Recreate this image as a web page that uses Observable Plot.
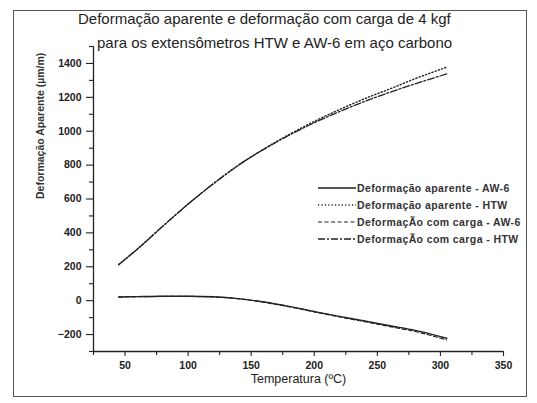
<!DOCTYPE html>
<html><head><meta charset="utf-8">
<script src="https://cdn.jsdelivr.net/npm/d3@7"></script>
<script src="https://cdn.jsdelivr.net/npm/@observablehq/plot@0.6"></script>
<style>
body{margin:0;background:#fff;}
#wrap{position:relative;width:537px;height:403px;font-family:"Liberation Sans",Arial,sans-serif;color:#222;overflow:hidden;}
#border{position:absolute;left:13px;top:10px;width:514px;height:387px;border:1px solid #555;box-sizing:border-box;}
.title{position:absolute;font-size:15px;white-space:nowrap;color:#222;font-family:"Liberation Sans",Arial,sans-serif;}
#legend{position:absolute;left:318px;top:179px;font-size:10.5px;font-weight:bold;color:#333;letter-spacing:0.4px;font-family:"Liberation Sans",Arial,sans-serif;}
#legend .row{height:17px;display:flex;align-items:center;white-space:nowrap;}
#legend svg{width:38px;height:10px;margin-right:1px;}
#plot{position:absolute;left:0;top:0;}
</style></head><body><div id="wrap"><div id="border"></div><div id="plot"></div></div>
<script>
const titulo1 = "Deformação aparente e deformação com carga de 4 kgf";
const titulo2 = "para os extensômetros HTW e AW-6 em aço carbono";
const rotuloX = "Temperatura (ºC)";
const rotuloY = "Deformação Aparente (µm/m)";

const temperatura = [45, 60, 80, 100, 120, 140, 160, 180, 200, 220, 240, 260, 280, 305];
const aparenteAW6 = [22, 24, 26, 26, 23, 12, -8, -34, -64, -93, -120, -148, -175, -222];
const aparenteHTW = [214, 307, 440, 570, 690, 800, 895, 980, 1058, 1128, 1192, 1250, 1310, 1378];
const cargaAW6   = [21, 23, 25, 25, 22, 11, -9, -36, -66, -96, -124, -153, -182, -232];
const cargaHTW   = [212, 305, 440, 570, 690, 800, 893, 976, 1050, 1116, 1176, 1230, 1280, 1338];

const ticksX = [50, 100, 150, 200, 250, 300, 350];
const ticksXmenor = [25, 75, 125, 175, 225, 275, 325];
const ticksY = [-200, 0, 200, 400, 600, 800, 1000, 1200, 1400];
const ticksYmenor = [-300, -100, 100, 300, 500, 700, 900, 1100, 1300, 1500];

const series = [
  {nome: "Deformação aparente - AW-6", valores: aparenteAW6, dash: null, w: 1.4},
  {nome: "Deformação aparente - HTW", valores: aparenteHTW, dash: "1.2,2.2", w: 1.4},
  {nome: "DeformaçÃo com carga - AW-6", valores: cargaAW6, dash: "4,2.5", w: 1.2},
  {nome: "DeformaçÃo com carga - HTW", valores: cargaHTW, dash: "7,2,2,2", w: 1.3}
];

const wrap = document.getElementById("wrap");
[[titulo1, 78, 10], [titulo2, 97, 34]].forEach(([t, l, tp]) => {
  const d = document.createElement("div");
  d.className = "title"; d.textContent = t;
  d.style.left = l + "px"; d.style.top = tp + "px";
  wrap.appendChild(d);
});

const lineMarks = series.map(s => Plot.line(
  temperatura.map((t, i) => ({T: t, v: s.valores[i]})),
  {x: "T", y: "v", stroke: "#222", strokeWidth: s.w, strokeDasharray: s.dash, curve: "monotone-x"}
));

const fmt = d3.format("d");
const chart = Plot.plot({
  width: 537, height: 403,
  marginLeft: 93, marginRight: 34, marginTop: 46, marginBottom: 52,
  style: {fontFamily: "Liberation Sans, Arial, sans-serif", color: "#222", background: "transparent", overflow: "visible"},
  x: {domain: [25, 350], label: null},
  y: {domain: [-300, 1500], label: null},
  marks: [
    Plot.ruleX([25], {stroke: "#222", strokeWidth: 1.3}),
    Plot.ruleY([-300], {stroke: "#222", strokeWidth: 1.3}),
    Plot.axisY({ticks: ticksYmenor, tickSize: 4, text: null, label: null, strokeWidth: 1.1}),
    Plot.axisY({ticks: ticksY, tickSize: 7, tickPadding: 5, tickFormat: fmt, label: null, fontSize: 10.5, fontWeight: "bold", strokeWidth: 1.1}),
    Plot.axisX({ticks: ticksXmenor, tickSize: 4, text: null, label: null, strokeWidth: 1.1}),
    Plot.axisX({ticks: ticksX, tickSize: 5, tickPadding: 5, tickFormat: fmt, label: null, fontSize: 10.5, fontWeight: "bold", strokeWidth: 1.1}),
    Plot.text([rotuloY], {frameAnchor: "left", dx: -53, rotate: -90, fontSize: 10.5, fontWeight: "bold", fill: "#333"}),
    Plot.text([rotuloX], {frameAnchor: "bottom", dy: 31, fontSize: 12.5, fill: "#222"}),
    ...lineMarks
  ]
});
document.getElementById("plot").appendChild(chart);

const leg = document.createElement("div");
leg.id = "legend";
series.forEach(s => {
  const r = document.createElement("div");
  r.className = "row";
  r.innerHTML = `<svg viewBox="0 0 38 10"><line x1="0" y1="5" x2="38" y2="5" stroke="#222" stroke-width="${s.w}" ${s.dash ? `stroke-dasharray="${s.dash}"` : ""}/></svg><span>${s.nome}</span>`;
  leg.appendChild(r);
});
wrap.appendChild(leg);
</script>
</body></html>
